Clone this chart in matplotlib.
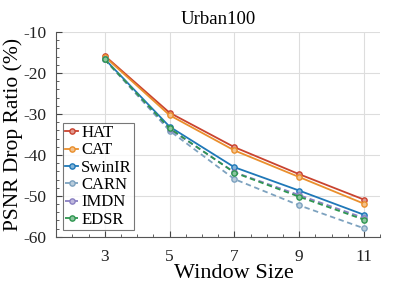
import numpy as np
import matplotlib.pyplot as plt
from matplotlib.ticker import MultipleLocator
from matplotlib.colors import to_rgb

plt.rcParams['font.family'] = ['Liberation Serif', 'DejaVu Serif']
plt.rcParams['axes.unicode_minus'] = False

# data
window = [3, 5, 7, 9, 11]
hat = [-15.8, -29.7, -38.1, -44.7, -50.9]
cat = [-16.0, -30.3, -38.9, -45.4, -51.9]
swinir = [-16.6, -33.1, -43.0, -48.7, -54.6]
carn = [-16.7, -34.1, -45.9, -52.3, -57.9]
imdn = [-16.7, -33.7, -44.2, -49.8, -55.4]
edsr = [-16.7, -33.5, -44.3, -50.2, -55.8]

series = [
    ('HAT', hat, '#c9432f', '-'),
    ('CAT', cat, '#ea8f2c', '-'),
    ('SwinIR', swinir, '#1f78b8', '-'),
    ('CARN', carn, '#7da2bf', '--'),
    ('IMDN', imdn, '#8a80c2', '--'),
    ('EDSR', edsr, '#2e9650', '--'),
]


def lighten(c, f=0.45):
    r, g, b = to_rgb(c)
    return (r + (1 - r) * f, g + (1 - g) * f, b + (1 - b) * f)


fig = plt.figure(figsize=(4.07, 2.91), dpi=100)
ax = fig.add_axes([0.138, 0.186, 0.796, 0.704])

for name, vals, col, ls in series:
    ax.plot(window, vals, ls, color=col, lw=1.3, marker='o', markersize=3.8,
            markerfacecolor=lighten(col), markeredgecolor=col, markeredgewidth=1.0,
            label=name, dashes=(3, 2) if ls == '--' else (None, None))

ax.set_xlim(1.5, 11.5)
ax.set_ylim(-60, -10)
ax.set_xticks(window)
ax.set_yticks([-60, -50, -40, -30, -20, -10])
ax.xaxis.set_minor_locator(MultipleLocator(0.5))
ax.yaxis.set_minor_locator(MultipleLocator(2))
ax.tick_params(which='both', direction='in', colors='#444444', labelcolor='#222222',
               labelsize=12.5)
ax.tick_params(which='major', length=4)
ax.tick_params(which='minor', length=2)
ax.tick_params(axis='x', pad=9)
ax.tick_params(axis='y', pad=7)
ax.grid(True, color='#dddddd', lw=0.8)
ax.set_axisbelow(True)
for s in ['top', 'right']:
    ax.spines[s].set_visible(False)
for s in ['left', 'bottom']:
    ax.spines[s].set_color('#555555')
    ax.spines[s].set_linewidth(0.8)

ax.set_title('Urban100', fontsize=13.5, pad=6)
ax.set_xlabel('Window Size', fontsize=16)
ax.xaxis.set_label_coords(0.547, -0.132)
ax.set_ylabel('PSNR Drop Ratio (%)', fontsize=15.5, labelpad=0)

leg = ax.legend(loc='lower left', fontsize=12, handlelength=0.75, handletextpad=0.2,
                borderpad=0.15, labelspacing=0.08, borderaxespad=0.4, fancybox=False,
                bbox_to_anchor=(0.0, 0.0))
leg.get_frame().set_edgecolor('#555555')
leg.get_frame().set_linewidth(0.8)

fig.savefig('out.png', dpi=100)
